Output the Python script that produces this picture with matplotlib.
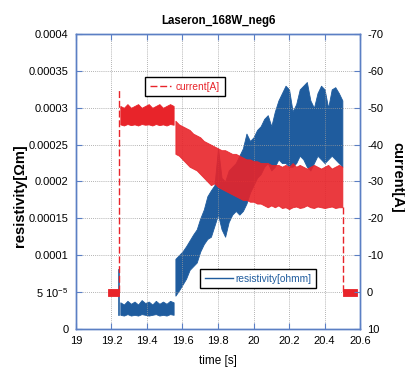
import matplotlib.pyplot as plt
import numpy as np

plt.rcParams['font.family'] = ['Liberation Sans', 'DejaVu Sans']
plt.rcParams['axes.unicode_minus'] = False
plt.rcParams['mathtext.fontset'] = 'custom'
plt.rcParams['mathtext.rm'] = 'Liberation Sans'

# ---- data (envelopes of the noisy traces) ----
# flat part while the laser is on, 19.25 .. 19.55 s
flat_t = [19.25, 19.27, 19.29, 19.31, 19.33, 19.35, 19.37, 19.39,
          19.41, 19.43, 19.45, 19.47, 19.49, 19.51, 19.53, 19.55]
# resistivity band [1e-4 ohm m]
flat_res_lo = [0.19, 0.18, 0.20, 0.18, 0.19, 0.18, 0.20, 0.19,
               0.18, 0.19, 0.20, 0.18, 0.19, 0.18, 0.20, 0.19]
flat_res_hi = [0.36, 0.33, 0.38, 0.34, 0.37, 0.33, 0.39, 0.35,
               0.37, 0.33, 0.38, 0.34, 0.37, 0.34, 0.38, 0.36]
# current band [A]
flat_cur_top = [-50.5, -50.0, -51.0, -50.0, -50.5, -51.0, -50.0, -50.5,
                -51.0, -50.0, -50.5, -51.0, -50.0, -50.5, -51.0, -50.5]
flat_cur_bot = [-45.5, -45.2, -45.6, -45.3, -45.5, -45.2, -45.6, -45.4,
                -45.5, -45.2, -45.6, -45.3, -45.5, -45.2, -45.6, -45.4]

# second part, 19.56 .. 20.50 s
t2 = [19.56, 19.58, 19.60, 19.62, 19.64, 19.66, 19.68, 19.70, 19.72, 19.74,
      19.76, 19.78, 19.80, 19.82, 19.84, 19.86, 19.88, 19.90, 19.92, 19.94,
      19.96, 19.98, 20.00, 20.02, 20.04, 20.06, 20.08, 20.10, 20.12, 20.14,
      20.16, 20.18, 20.20, 20.22, 20.24, 20.26, 20.28, 20.30, 20.32, 20.34,
      20.36, 20.38, 20.40, 20.42, 20.44, 20.46, 20.48, 20.50]
res_lo = [0.45, 0.52, 0.60, 0.68, 0.80, 0.85, 0.90, 1.05, 1.15, 1.22,
          1.25, 1.40, 1.55, 1.35, 1.25, 1.45, 1.55, 1.60, 1.55, 1.60,
          1.70, 1.85, 1.95, 2.05, 2.10, 2.20, 2.25, 2.15, 2.20, 2.30,
          2.25, 2.25, 2.20, 2.20, 2.25, 2.35, 2.30, 2.20, 2.15, 2.25,
          2.35, 2.30, 2.25, 2.30, 2.35, 2.30, 2.25, 2.20]
res_hi = [0.95, 1.00, 1.05, 1.12, 1.20, 1.28, 1.35, 1.50, 1.62, 1.80,
          1.88, 1.95, 2.45, 2.05, 2.00, 2.15, 2.20, 2.25, 2.35, 2.45,
          2.65, 2.55, 2.60, 2.70, 2.75, 2.85, 2.90, 2.75, 2.95, 3.10,
          3.20, 3.30, 3.25, 2.95, 3.05, 3.25, 3.30, 3.35, 3.10, 3.00,
          3.20, 3.30, 3.25, 3.00, 3.25, 3.28, 3.20, 3.10]
cur_top = [-46.5, -45.5, -45.0, -44.5, -44.0, -43.0, -42.5, -42.0, -41.0, -40.5,
           -40.0, -39.5, -39.0, -38.5, -38.5, -38.0, -37.5, -37.5, -37.0, -36.5,
           -36.0, -36.0, -35.5, -35.5, -35.0, -35.0, -35.0, -34.5, -34.5, -34.5,
           -34.0, -34.5, -34.0, -35.0, -34.0, -34.5, -34.0, -33.5, -34.0, -34.5,
           -34.0, -33.5, -34.0, -34.5, -33.5, -34.0, -34.5, -34.0]
cur_bot = [-37.5, -37.0, -36.0, -35.0, -34.0, -33.5, -33.0, -32.0, -31.0, -30.0,
           -29.0, -29.5, -28.5, -28.0, -27.5, -27.0, -26.5, -26.0, -25.5, -25.0,
           -25.0, -24.5, -24.5, -24.0, -24.0, -23.5, -23.0, -23.5, -23.0, -23.5,
           -22.8, -23.0, -22.5, -23.0, -23.2, -22.8, -23.0, -23.5, -23.0, -22.8,
           -23.2, -23.0, -22.8, -23.0, -23.2, -22.8, -23.0, -23.0]

# laser off, before / after
pre_t = [19.18, 19.24]
post_t = [20.505, 20.58]
off_cur = [-0.8, 1.0]

# switching edges
on_t = 19.245
on_cur = [0.0, -55.0]
on_res = [0.19e-4, 0.80e-4]
off_t = 20.505
off_edge_cur = [-23.0, 0.0]

xticks = [19, 19.2, 19.4, 19.6, 19.8, 20, 20.2, 20.4, 20.6]
xlabels = ['19', '19.2', '19.4', '19.6', '19.8', '20', '20.2', '20.4', '20.6']
yticks = [0, 0.00005, 0.0001, 0.00015, 0.0002, 0.00025, 0.0003, 0.00035, 0.0004]
ylabels = ['0', r'5 10$^{-5}$', '0.0001', '0.00015', '0.0002', '0.00025',
           '0.0003', '0.00035', '0.0004']
y2ticks = [10, 0, -10, -20, -30, -40, -50, -60, -70]

blue = '#1f5c9e'
red = '#e8242a'
frame = '#5b7fc4'

fig = plt.figure(figsize=(4.06, 3.67), dpi=100)
ax = fig.add_axes([0.187, 0.104, 0.700, 0.803])
ax2 = ax.twinx()

# resistivity (left axis)
ax.fill_between(flat_t, np.array(flat_res_lo) * 1e-4, np.array(flat_res_hi) * 1e-4,
                color=blue, lw=0.6)
ax.fill_between(t2, np.array(res_lo) * 1e-4, np.array(res_hi) * 1e-4,
                color=blue, lw=0.6)
ax.plot([on_t, on_t], on_res, color=blue, lw=1.2)
ax.plot([], [], color=blue, lw=1, label='resistivity[ohmm]')

# current (right axis, inverted)
ax2.fill_between(pre_t, off_cur[0], off_cur[1], color=red, lw=0.6)
ax2.fill_between(post_t, off_cur[0], off_cur[1], color=red, lw=0.6)
ax2.fill_between(flat_t, flat_cur_top, flat_cur_bot, color=red, lw=0.6)
ax2.fill_between(t2, cur_top, cur_bot, color=red, lw=0.6, alpha=0.9)
ax2.plot([on_t, on_t], on_cur, color=red, lw=1, ls=(0, (5, 2)))
ax2.plot([off_t, off_t], off_edge_cur, color=red, lw=1, ls=(0, (5, 2)))
ax2.plot([], [], color=red, lw=1, ls=(0, (5, 2)), label='current[A]')

ax.set_xlim(19, 20.6)
ax.set_ylim(0, 0.0004)
ax2.set_ylim(10, -70)
ax.set_xticks(xticks)
ax.set_xticklabels(xlabels)
ax.set_yticks(yticks)
ax.set_yticklabels(ylabels)
ax2.set_yticks(y2ticks)

ax.grid(True, color='#9a9a9a', lw=0.6, ls=(0, (1, 1.5)))
ax.tick_params(direction='in', top=True, length=4, color=frame,
               labelsize=8, pad=5.5)
ax2.tick_params(direction='in', length=4, color=frame, labelsize=8, pad=5)
for a in (ax, ax2):
    for s in a.spines.values():
        s.set_color(frame)
        s.set_linewidth(1)

ax.set_title('Laseron_168W_neg6', fontsize=8.3, fontweight='bold', pad=7)
ax.set_xlabel('time [s]', fontsize=8.5, labelpad=6)
fig.text(20 / 406, 1 - 196 / 367, 'resistivity[Ωm]', rotation=90,
         ha='center', va='center', fontsize=10.5, fontweight='bold')
fig.text(397 / 406, 1 - 177 / 367, 'current[A]', rotation=270,
         ha='center', va='center', fontsize=10.5, fontweight='bold')

leg1 = ax2.legend(loc='upper left', bbox_to_anchor=(140 / 406, 1 - 72 / 367),
                  bbox_transform=fig.transFigure, fontsize=7.3, fancybox=False,
                  edgecolor='black', framealpha=1, handlelength=2.1,
                  handletextpad=0.5, borderpad=0.45, labelcolor='linecolor')
leg1.get_frame().set_linewidth(1)
leg2 = ax.legend(loc='upper left', bbox_to_anchor=(195 / 406, 1 - 264 / 367),
                 bbox_transform=fig.transFigure, fontsize=7.3, fancybox=False,
                 edgecolor='black', framealpha=1, handlelength=2.8,
                 handletextpad=0.25, borderpad=0.45, labelcolor='linecolor')
leg2.get_frame().set_linewidth(1)
leg2.set_zorder(10)

fig.savefig('out.png', dpi=100)
